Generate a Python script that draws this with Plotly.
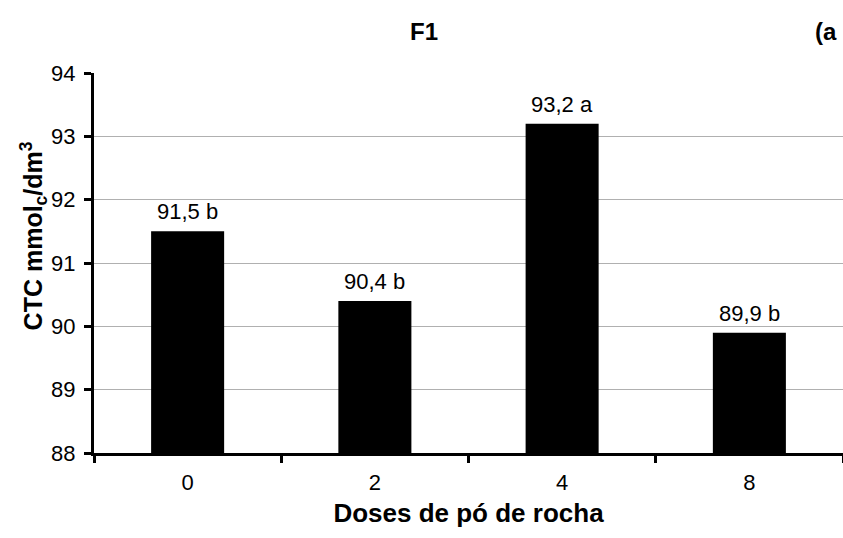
import plotly.graph_objects as go

categories = ["0", "2", "4", "8"]
values = [91.5, 90.4, 93.2, 89.9]
labels = ["91,5 b", "90,4 b", "93,2 a", "89,9 b"]
y_ticks = [88, 89, 90, 91, 92, 93, 94]

FONT = "Liberation Sans, Arial"

fig = go.Figure()
fig.add_trace(go.Bar(x=categories, y=values, marker=dict(color="black", line=dict(width=0)),
                     width=0.39, hoverinfo="skip"))

for i, (v, t) in enumerate(zip(values, labels)):
    fig.add_annotation(x=i, y=v, text=t, showarrow=False, yanchor="bottom", yshift=5,
                       font=dict(family=FONT, size=22, color="black"))

fig.add_annotation(xref="paper", yref="paper", x=0.44, y=1.0, yanchor="middle", yshift=42,
                   text="<b>F1</b>", showarrow=False, font=dict(family=FONT, size=24, color="black"))
fig.add_annotation(xref="paper", yref="paper", x=1.0, xanchor="right", xshift=-4, y=1.0,
                   yanchor="middle", yshift=42, text="<b>(a</b>", showarrow=False,
                   font=dict(family=FONT, size=24, color="black"))
fig.add_annotation(xref="paper", yref="paper", x=0, xanchor="center", xshift=-60, y=0.57,
                   yanchor="middle", textangle=-90,
                   text="<b>CTC mmol<sub>c</sub>/dm<sup>3</sup></b>", showarrow=False,
                   font=dict(family=FONT, size=25, color="black"))

fig.update_layout(
    width=843, height=538,
    margin=dict(l=94, r=0, t=73, b=85),
    paper_bgcolor="white", plot_bgcolor="white",
    showlegend=False,
    xaxis=dict(
        type="category", categoryarray=categories, range=[-0.5, 3.5],
        showline=True, linecolor="black", linewidth=3,
        ticks="outside", tickson="boundaries", ticklen=7, tickwidth=3, tickcolor="black",
        ticklabelstandoff=8,
        showgrid=False, tickfont=dict(family=FONT, size=22, color="black"),
        title=dict(text="<b>Doses de pó de rocha</b>", font=dict(family=FONT, size=26, color="black"),
                   standoff=10),
    ),
    yaxis=dict(
        range=[88, 94], tickvals=y_ticks, showline=True, linecolor="black", linewidth=3,
        ticks="outside", ticklen=7, tickwidth=3, tickcolor="black",
        ticklabelstandoff=4,
        showgrid=True, gridcolor="#b0b0b0", gridwidth=1, zeroline=False,
        tickfont=dict(family=FONT, size=22, color="black"),
    ),
)

fig.write_html("out.html")
